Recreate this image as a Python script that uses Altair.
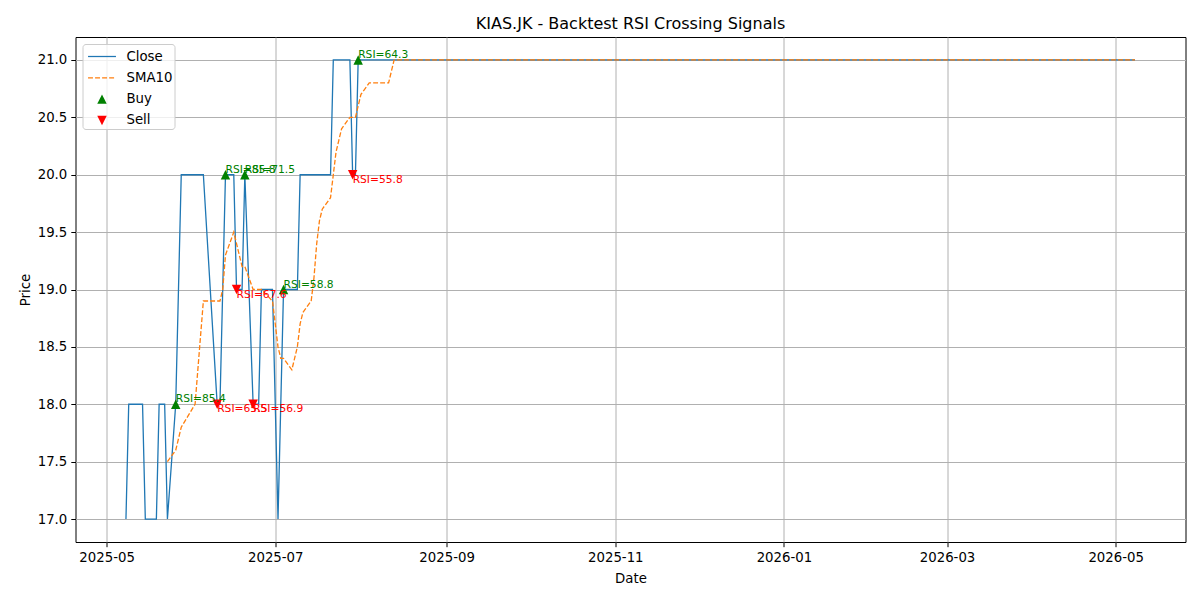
import altair as alt
import pandas as pd

# trading days shown in the reference (flat at 21 after mid-August)
dates = [
    "2025-05-08", "2025-05-09", "2025-05-14", "2025-05-15", "2025-05-16",
    "2025-05-19", "2025-05-20", "2025-05-21", "2025-05-22", "2025-05-23",
    "2025-05-26", "2025-05-28", "2025-06-02", "2025-06-03", "2025-06-04",
    "2025-06-05", "2025-06-10", "2025-06-11", "2025-06-12", "2025-06-13",
    "2025-06-16", "2025-06-17", "2025-06-18", "2025-06-19", "2025-06-20",
    "2025-06-23", "2025-06-24", "2025-06-25", "2025-06-26", "2025-06-30",
    "2025-07-01", "2025-07-02", "2025-07-03", "2025-07-04", "2025-07-07",
    "2025-07-08", "2025-07-09", "2025-07-10", "2025-07-11", "2025-07-14",
    "2025-07-15", "2025-07-16", "2025-07-17", "2025-07-18", "2025-07-21",
    "2025-07-22", "2025-07-23", "2025-07-24", "2025-07-25", "2025-07-28",
    "2025-07-29", "2025-07-30", "2025-07-31", "2025-08-01", "2025-08-04",
    "2025-08-05", "2025-08-06", "2025-08-07", "2025-08-08", "2025-08-11",
    "2025-08-12", "2025-08-13", "2026-05-08",
]
close = [
    17, 18, 18, 17, 17, 17, 18, 18, 18, 17,
    18, 20, 20, 20, 20, 20, 18, 18, 19, 20,
    20, 19, 19, 19, 20, 18, 18, 18, 19, 19,
    18, 17, 18, 19, 19, 19, 19, 20, 20, 20,
    20, 20, 20, 20, 20, 21, 21, 21, 21, 21,
    20, 20, 21, 21, 21, 21, 21, 21, 21, 21,
    21, 21, 21,
]
sma10 = [
    None, None, None, None, None, None, None, None, None, 17.5,
    17.6, 17.8, 18.0, 18.3, 18.6, 18.9, 18.9, 18.9, 19.0, 19.3,
    19.5, 19.4, 19.3, 19.2, 19.2, 19.0, 19.0, 19.0, 19.0, 18.9,
    18.7, 18.5, 18.4, 18.4, 18.3, 18.4, 18.5, 18.7, 18.8, 18.9,
    19.1, 19.4, 19.6, 19.7, 19.8, 20.0, 20.2, 20.3, 20.4, 20.5,
    20.5, 20.5, 20.6, 20.7, 20.8, 20.8, 20.8, 20.8, 20.8, 20.8,
    20.9, 21.0, 21.0,
]

buy_dates = ["2025-05-26", "2025-06-13", "2025-06-20", "2025-07-04", "2025-07-31"]
buy_price = [18, 20, 20, 19, 21]
buy_rsi = [85.4, 85.8, 71.5, 58.8, 64.3]

sell_dates = ["2025-06-10", "2025-06-17", "2025-06-23", "2025-07-29"]
sell_price = [18, 19, 18, 20]
sell_rsi = [65.5, 67.6, 56.9, 55.8]

series_names = ["Close", "SMA10", "Buy", "Sell"]
series_colors = ["#1f77b4", "#ff7f0e", "green", "red"]

x_ticks = ["2025-05", "2025-07", "2025-09", "2025-11", "2026-01", "2026-03", "2026-05"]
y_ticks = [17.0, 17.5, 18.0, 18.5, 19.0, 19.5, 20.0, 20.5, 21.0]

# legend / marker glyphs (unit box, scaled by symbol size)
_LINE = "M-1.33,-0.06H1.33V0.06H-1.33Z"
_DASH = (
    "M-1.33,-0.06H-0.86V0.06H-1.33Z M-0.66,-0.06H-0.19V0.06H-0.66Z "
    "M0.01,-0.06H0.48V0.06H0.01Z M0.68,-0.06H1.15V0.06H0.68Z"
)
_UP = "M0,-0.45L0.45,0.45L-0.45,0.45Z"
_DOWN = "M0,0.45L0.45,-0.45L-0.45,-0.45Z"
series_shapes = [_LINE, _DASH, _UP, _DOWN]

prices = pd.DataFrame({"date": dates, "close": close, "sma": sma10})
sma_df = prices.dropna(subset=["sma"])

signals = pd.DataFrame({
    "date": buy_dates + sell_dates,
    "price": buy_price + sell_price,
    "series": ["Buy"] * len(buy_dates) + ["Sell"] * len(sell_dates),
    "label": [f"RSI={v:.1f}" for v in buy_rsi + sell_rsi],
})
buys = signals[signals["series"] == "Buy"]
sells = signals[signals["series"] == "Sell"]

x_enc = alt.X(
    "date:T",
    title="Date",
    scale=alt.Scale(
        type="utc",
        domain=[
            alt.DateTime(year=2025, month=4, date=19, hours=18, utc=True),
            alt.DateTime(year=2026, month=5, date=26, hours=6, utc=True),
        ],
    ),
    axis=alt.Axis(
        values=[alt.DateTime(year=int(t[:4]), month=int(t[5:]), date=1, utc=True) for t in x_ticks],
        format="%Y-%m",
        labelOverlap=False,
        titlePadding=7,
    ),
)
y_scale = alt.Scale(domain=[16.8, 21.2], nice=False, zero=False)
y_axis = alt.Axis(values=y_ticks, format=".1f", title="Price")

legend = alt.Legend(
    title=None,
    orient="top-left",
    offset=7,
    padding=2,
    symbolOffset=7,
    labelOffset=14,
    rowPadding=4.3,
    symbolSize=441,
    symbolStrokeWidth=0,
    labelFontSize=13.3,
    labelColor="black",
    labelExpr="datum.label + '\u00a0\u00a0\u00a0'",
    fillColor="rgba(255,255,255,0.8)",
    strokeColor="#cccccc",
    cornerRadius=3,
)

close_line = alt.Chart(prices).mark_line(color="#1f77b4", strokeWidth=1.3).encode(
    x=x_enc, y=alt.Y("close:Q", scale=y_scale, axis=y_axis)
)
sma_line = alt.Chart(sma_df).mark_line(
    color="#ff7f0e", strokeWidth=1.3, strokeDash=[4.9, 2.1]
).encode(x=x_enc, y=alt.Y("sma:Q", scale=y_scale, axis=y_axis))

points = alt.Chart(signals).mark_point(filled=True, size=441, opacity=1, strokeWidth=0).encode(
    x=x_enc,
    y=alt.Y("price:Q", scale=y_scale, axis=y_axis),
    color=alt.Color("series:N", scale=alt.Scale(domain=series_names, range=series_colors), legend=legend),
    shape=alt.Shape("series:N", scale=alt.Scale(domain=series_names, range=series_shapes), legend=legend),
)

buy_text = alt.Chart(buys).mark_text(
    align="left", baseline="bottom", fontSize=10.7, color="green"
).encode(x=x_enc, y=alt.Y("price:Q", scale=y_scale, axis=y_axis), text="label:N")
sell_text = alt.Chart(sells).mark_text(
    align="left", baseline="top", fontSize=10.7, color="red"
).encode(x=x_enc, y=alt.Y("price:Q", scale=y_scale, axis=y_axis), text="label:N")

chart = (
    alt.layer(close_line, sma_line, points, buy_text, sell_text)
    .properties(
        width=1110,
        height=505,
        title="KIAS.JK - Backtest RSI Crossing Signals",
        padding={"left": 9.5, "top": 8, "right": 5, "bottom": 5},
    )
    .configure(font="DejaVu Sans")
    .configure_view(stroke="black", strokeWidth=1)
    .configure_axis(
        domain=False,
        grid=True,
        gridColor="#b0b0b0",
        gridWidth=1,
        tickColor="black",
        tickSize=4.7,
        tickWidth=1,
        labelFontSize=13.3,
        labelColor="black",
        labelPadding=4,
        titleFontSize=13.3,
        titleFontWeight="normal",
        titleColor="black",
        titlePadding=5,
    )
    .configure_title(fontSize=16, fontWeight="normal", color="black", anchor="middle", offset=5)
)

chart.save("out.html", embed_options={"renderer": "svg", "actions": False})
